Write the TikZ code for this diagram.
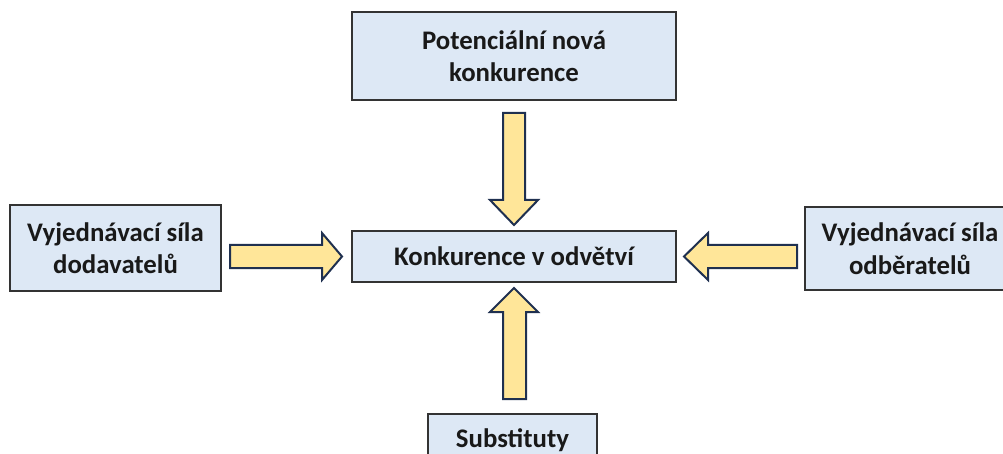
\documentclass[tikz,border=0pt]{standalone}
\usepackage{fontspec}
\setmainfont{Carlito}
\begin{document}
\begin{tikzpicture}[x=1pt,y=-1pt,
  box/.style={draw=black!80, line width=1.3pt, fill=boxfill, inner sep=0pt, align=center,
    font=\fontsize{26.8}{32.5}\selectfont\bfseries, text=black!90},
  blockarrow/.style={draw=arrowline, line width=2pt, fill=arrowfill, line join=miter}]
\definecolor{boxfill}{HTML}{DDE8F5}
\definecolor{arrowfill}{HTML}{FFE699}
\definecolor{arrowline}{HTML}{1F3050}
\useasboundingbox (0,0) rectangle (1003,454);
\clip (0,0) rectangle (1003,454);
\node[box, minimum width=324pt, minimum height=88pt] (potential) at (514,56) {Potenciální nová\\konkurence};
\node[box, minimum width=211pt, minimum height=86pt] (supplier) at (115.5,248) {Vyjednávací síla\\dodavatelů};
\node[box, minimum width=210pt, minimum height=83pt] (buyer) at (910,248.5) {Vyjednávací síla\\odběratelů};
\node[box, minimum width=324pt, minimum height=51pt] (center) at (514,256.5) {Konkurence v odvětví};
\node[box, minimum width=169pt, text height=33pt, text depth=20pt] (subst) at (512.5,440.5) {Substituty};
% down arrow
\draw[blockarrow] (503,113) -- (525,113) -- (525,200) -- (538,200) -- (514,225) -- (490,200) -- (503,200) -- cycle;
% up arrow
\draw[blockarrow] (503,399) -- (526,399) -- (526,312) -- (538,312) -- (514,288) -- (490,312) -- (503,312) -- cycle;
% right arrow
\draw[blockarrow] (230,245) -- (322,245) -- (322,233) -- (342,256.5) -- (322,280) -- (322,268) -- (230,268) -- cycle;
% left arrow
\draw[blockarrow] (797,245) -- (708,245) -- (708,233) -- (684,256.5) -- (708,280) -- (708,268) -- (797,268) -- cycle;
\end{tikzpicture}
\end{document}
